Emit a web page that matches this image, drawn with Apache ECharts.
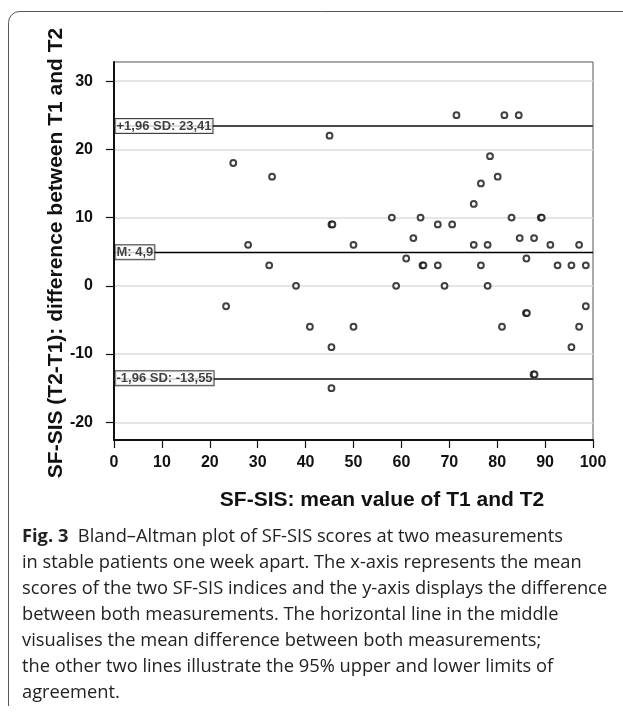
<!DOCTYPE html>
<html>
<head>
<meta charset="utf-8">
<script src="https://cdn.jsdelivr.net/npm/echarts@6/dist/echarts.min.js"></script>
<style>
html,body{margin:0;padding:0;background:#fff;}
#chart{width:623px;height:714px;}
</style>
</head>
<body>
<div id="chart"></div>
<script>
// Mean of T1 and T2 (x) and difference T2-T1 (y)
var meanValues = [23.4, 24.9, 28.0, 32.4, 33.0, 38.0, 40.9, 45.0, 45.4, 45.6, 45.4, 45.4, 50.0, 50.0,
  58.0, 58.9, 61.0, 62.5, 64.0, 64.4, 64.6, 67.6, 67.6, 69.0, 70.6, 71.5, 75.1, 75.1, 76.6, 76.6,
  78.0, 78.0, 78.5, 80.1, 81.0, 81.5, 83.0, 84.5, 84.7, 86.0, 86.2, 86.1, 87.6, 87.8, 87.7, 89.1,
  89.3, 91.1, 92.6, 95.5, 95.5, 97.1, 97.1, 98.5, 98.5];
var diffValues = [-3, 18, 6, 3, 16, 0, -6, 22, 9, 9, -9, -15, 6, -6,
  10, 0, 4, 7, 10, 3, 3, 9, 3, 0, 9, 25, 12, 6, 15, 3,
  6, 0, 19, 16, -6, 25, 10, 25, 7, -4, -4, 4, -13, -13, 7, 10,
  10, 6, 3, 3, -9, 6, -6, 3, -3];
var limitValues = [23.41, 4.9, -13.55];
var limitLabels = ['+1,96 SD: 23,41', 'M: 4,9', '-1,96 SD: -13,55'];
var yTicks = [-20, -10, 0, 10, 20, 30];
var xTitle = 'SF-SIS: mean value of T1 and T2';
var yTitle = 'SF-SIS (T2-T1): difference between T1 and T2';
var captionLines = [
  '{b|Fig. 3}  Bland\u2013Altman plot of SF-SIS scores at two measurements',
  'in stable patients one week apart. The x-axis represents the mean',
  'scores of the two SF-SIS indices and the y-axis displays the difference',
  'between both measurements. The horizontal line in the middle',
  'visualises the mean difference between both measurements;',
  'the other two lines illustrate the 95% upper and lower limits of',
  'agreement.'
];

var points = meanValues.map(function (x, i) { return [x, diffValues[i]]; });
var chart = echarts.init(document.getElementById('chart'), null, {renderer: 'canvas'});
var AX = 'Liberation Sans, Arial, sans-serif';
var CAP = 'Open Sans, sans-serif';
var CAPSIZE = 18.3;

var graphics = [
  {type: 'polyline', shape: {points: [[8.5, 706], [8.5, 22.5]]}, style: {stroke: '#555', lineWidth: 1, fill: null}},
  {type: 'arc', shape: {cx: 19.5, cy: 22.5, r: 11, startAngle: Math.PI, endAngle: Math.PI * 1.5}, style: {stroke: '#555', lineWidth: 1, fill: null}},
  {type: 'polyline', shape: {points: [[19.5, 11.5], [623, 11.5]]}, style: {stroke: '#555', lineWidth: 1, fill: null}},
  {type: 'text', x: 382, y: 500, style: {text: xTitle, font: 'bold 21px ' + AX, fill: '#111', align: 'center', verticalAlign: 'middle'}},
  {type: 'text', x: 56, y: 253, rotation: Math.PI / 2, style: {text: yTitle, font: 'bold 21px ' + AX, fill: '#111', align: 'center', verticalAlign: 'middle'}}
];
captionLines.forEach(function (line, i) {
  graphics.push({
    type: 'text', x: 22, y: 537 + 26 * i,
    style: {
      text: line, fontFamily: CAP, fontSize: CAPSIZE, fill: '#222', verticalAlign: 'middle', align: 'left',
      rich: {b: {fontFamily: CAP, fontSize: CAPSIZE, fontWeight: 'bold', fill: '#222'}}
    }
  });
});

var option = {
  animation: false,
  backgroundColor: '#fff',
  grid: {left: 114, right: 30, top: 62, bottom: 274, show: true, borderColor: '#555', borderWidth: 1},
  xAxis: {
    type: 'value', min: 0, max: 100, interval: 10,
    axisLine: {onZero: false, lineStyle: {color: '#111', width: 2}},
    axisTick: {show: true, length: 8, lineStyle: {color: '#111', width: 1.2}},
    axisLabel: {margin: 15, fontSize: 16, fontWeight: 'bold', color: '#111', fontFamily: AX},
    splitLine: {show: false}
  },
  yAxis: {
    type: 'value', min: -22.6, max: 32.8,
    axisLine: {show: true, onZero: false, lineStyle: {color: '#111', width: 2}},
    axisTick: {show: true, length: 8, lineStyle: {color: '#111', width: 1.2}, customValues: yTicks},
    axisLabel: {margin: 21, fontSize: 16, fontWeight: 'bold', color: '#111', fontFamily: AX, customValues: yTicks},
    splitLine: {show: true, lineStyle: {color: '#dcdcdc', width: 1.5}}
  },
  series: [
    {
      type: 'scatter',
      data: points,
      symbol: 'emptyCircle',
      symbolSize: 5.8,
      itemStyle: {color: '#111', borderColor: '#111', borderWidth: 1.4},
      markLine: {
        silent: true,
        symbol: ['none', 'none'],
        label: {show: false},
        data: limitValues.map(function (v, i) {
          return {yAxis: v, lineStyle: {type: 'solid', color: i === 1 ? '#000' : '#4a4a4a', width: i === 1 ? 1.3 : 1.8}};
        })
      },
      z: 3
    },
    {
      type: 'scatter',
      data: limitValues.map(function (v, i) { return [0, v, limitLabels[i]]; }),
      symbolSize: 1,
      itemStyle: {color: 'rgba(0,0,0,0)'},
      label: {
        show: true, position: 'right', distance: 1,
        formatter: function (p) { return p.data[2]; },
        backgroundColor: '#fff', borderColor: '#111', borderWidth: 1,
        padding: [1, 1, 0, 1], lineHeight: 13,
        fontSize: 13, fontWeight: 'bold', color: '#111', fontFamily: AX
      },
      z: 5
    }
  ],
  graphic: graphics
};
chart.setOption(option);
</script>
</body>
</html>
